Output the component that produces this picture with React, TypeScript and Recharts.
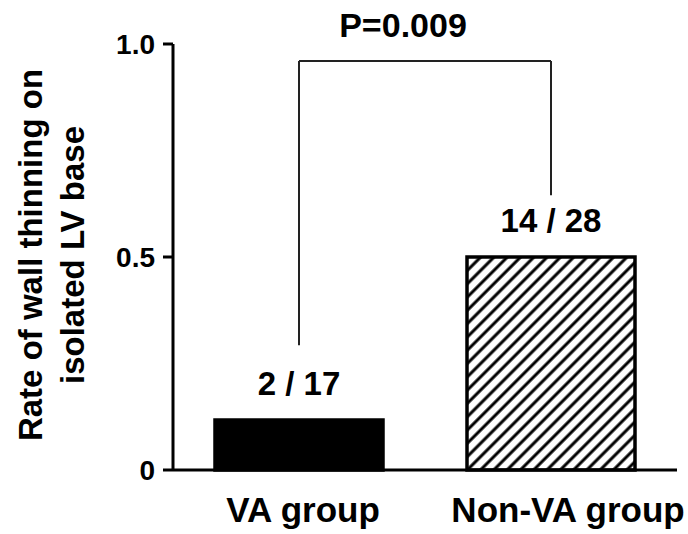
import {
  BarChart,
  Bar,
  XAxis,
  YAxis,
  Cell,
  LabelList,
  ReferenceLine,
} from 'recharts';

const categories = ['VA group', 'Non-VA group'];
const events = [2, 14];
const totals = [17, 28];
const yTicks = [0, 0.5, 1];
const yTickLabels = ['0', '0.5', '1.0'];
const yAxisTitle = ['Rate of wall thinning on', 'isolated LV base'];
const pValueText = 'P=0.009';
// bracket heights, in axis units
const bracketTop = 0.96;
const bracketLeftEnd = 0.293;
const bracketRightEnd = 0.645;

const FONT = '"Liberation Sans", Arial, sans-serif';
// the category labels sit a little right of the bar centres in the original
const tickShift = [4, 17];

const data = categories.map((name, i) => ({
  name,
  rate: events[i] / totals[i],
  label: `${events[i]} / ${totals[i]}`,
}));

const fills = ['#000', 'url(#hatch)'];

function YTitle() {
  const xs = [30, 72];
  return (
    <g>
      {yAxisTitle.map((line, i) => (
        <text
          key={line}
          x={xs[i]}
          y={255}
          transform={`rotate(-90, ${xs[i]}, 255)`}
          textAnchor="middle"
          dominantBaseline="central"
          fontFamily={FONT}
          fontWeight="bold"
          fontSize={33}
          fill="#000"
        >
          {line}
        </text>
      ))}
    </g>
  );
}

function CategoryTick(props: any) {
  const { x, y, payload, index } = props;
  return (
    <text
      x={x + (tickShift[index] ?? 0)}
      y={y}
      dy="0.71em"
      textAnchor="middle"
      fill="#000"
      fontSize={35}
      fontWeight="bold"
      fontFamily={FONT}
    >
      {payload.value}
    </text>
  );
}

export default function App() {
  return (
    <div style={{ position: 'absolute', left: 0, top: 0, background: '#fff' }}>
      <BarChart
        width={688}
        height={534}
        data={data}
        margin={{ top: 44, right: 11, bottom: 0, left: 0 }}
      >
        <defs>
          <pattern
            id="hatch"
            patternUnits="userSpaceOnUse"
            width={9.4}
            height={9.4}
            patternTransform="rotate(45)"
          >
            <rect width={9.4} height={9.4} fill="#fff" />
            <line x1={4.7} y1={0} x2={4.7} y2={9.4} stroke="#000" strokeWidth={3} />
          </pattern>
        </defs>
        <XAxis
          dataKey="name"
          height={64}
          axisLine={{ stroke: '#000', strokeWidth: 3 }}
          tickLine={false}
          tickSize={6}
          tickMargin={21}
          tick={<CategoryTick />}
        />
        <YAxis
          width={173}
          domain={[0, 1]}
          ticks={yTicks}
          tickFormatter={(v: number) => yTickLabels[yTicks.indexOf(v)]}
          axisLine={{ stroke: '#000', strokeWidth: 3 }}
          tickLine={{ stroke: '#000', strokeWidth: 3 }}
          tickSize={10}
          tickMargin={8}
          tick={{ fill: '#000', fontSize: 28, fontWeight: 'bold', fontFamily: FONT }}
          label={{ content: () => <YTitle /> }}
        />
        <Bar dataKey="rate" barSize={168} stroke="#000" strokeWidth={3.5} isAnimationActive={false}>
          {data.map((d, i) => (
            <Cell key={d.name} fill={fills[i]} />
          ))}
          <LabelList
            dataKey="label"
            position="top"
            offset={25}
            fill="#000"
            fontSize={33}
            fontWeight="bold"
            fontFamily={FONT}
          />
        </Bar>
        <ReferenceLine
          segment={[
            { x: categories[0], y: bracketLeftEnd },
            { x: categories[0], y: bracketTop },
          ]}
          stroke="#222"
          strokeWidth={2}
        />
        <ReferenceLine
          segment={[
            { x: categories[1], y: bracketRightEnd },
            { x: categories[1], y: bracketTop },
          ]}
          stroke="#222"
          strokeWidth={2}
        />
        <ReferenceLine
          segment={[
            { x: categories[0], y: bracketTop },
            { x: categories[1], y: bracketTop },
          ]}
          stroke="#222"
          strokeWidth={2}
          label={{
            value: pValueText,
            position: 'top',
            offset: 24,
            dx: -22,
            fill: '#000',
            fontSize: 34,
            fontWeight: 'bold',
            fontFamily: FONT,
          }}
        />
      </BarChart>
    </div>
  );
}
